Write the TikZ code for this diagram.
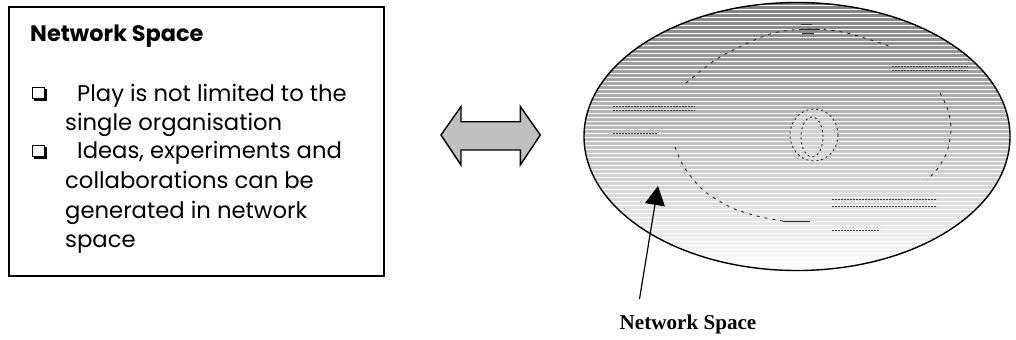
\documentclass[tikz,border=0pt]{standalone}
\usepackage{fontspec}
\setmainfont{Liberation Serif}
\newfontfamily\gothic{Poppins}
\usetikzlibrary{arrows.meta}
\definecolor{shade}{HTML}{C0C0C0}
\tikzset{
  panel/.style={draw, line width=1.6bp, inner sep=0pt, anchor=north west},
  titletext/.style={anchor=base west, inner sep=0pt, font=\gothic\bfseries\fontsize{22.5}{26}\selectfont},
  itemtext/.style={anchor=base west, inner sep=0pt, font=\gothic\fontsize{22.8}{26}\selectfont},
  labeltext/.style={anchor=base, inner sep=0pt, font=\bfseries\fontsize{21.2}{25}\selectfont},
  ghost/.style={black!85, line width=0.9bp, dash pattern=on 3bp off 5bp},
  ghosttext/.style={black!75, line width=0.9bp, dash pattern=on 1.5bp off 1.5bp},
}
\newcommand{\boxbullet}[2]{%
  \draw[line width=0.8bp] (#1,#2) rectangle ++(12.5,11.5);
  \draw[line width=2bp] (#1+14,#2+1.5) -- (#1+14,#2+13) -- (#1+1.5,#2+13);
}
\begin{document}
\begin{tikzpicture}[x=1bp,y=-1bp]
\useasboundingbox (0,0) rectangle (1016,339);

% left text panel
\node[panel, minimum width=375bp, minimum height=269bp] (panel) at (8,6) {};
\node[titletext] (title) at (30,41.7) {Network Space};
\boxbullet{32}{87}
\node[itemtext] (l1) at (77,101.7) {Play is not limited to the};
\node[itemtext] (l2) at (65,130) {single organisation};
\boxbullet{32}{145}
\node[itemtext] (l3) at (77,158.5) {Ideas, experiments and};
\node[itemtext] (l4) at (65,188) {collaborations can be};
\node[itemtext] (l5) at (65,218) {generated in network};
\node[itemtext] (l6) at (65,247) {space};

% two-headed block arrow
\draw[fill=shade, line width=1.4bp, line join=miter]
  (441,135) -- (461,106.5) -- (461,121.7) -- (520.3,121.7) -- (520.3,106.5)
  -- (540.3,135) -- (520.3,165) -- (520.3,150) -- (461,150) -- (461,165) -- cycle;

% striped network ellipse
\begin{scope}
  \clip (797,136.5) ellipse [x radius=213bp, y radius=134bp];
  \fill[shade] (580,0) rectangle (1016,275);
  \foreach \k in {0,...,68} {
    \fill[white] (580,4*\k+1) rectangle (1016,4*\k+2.3);
  }
  % faded circle diagram behind the stripes
  \draw[ghost] plot[smooth] coordinates {(686,83) (720,57) (770,34) (810,29) (847,33) (892,47)};
  \draw[black!80, line width=1bp] (801,24) -- (812,24) (799,29) -- (820,29) (802,33) -- (814,33);
  \draw[ghost] plot[smooth] coordinates {(940,93) (948,110) (951,130) (947,152) (938,168) (927,180)};
  \draw[ghost] plot[smooth] coordinates {(675,147) (684,167) (703,190) (730,207) (757,216) (783,221)};
  \draw[black!85, line width=1bp] (783,221) -- (810,221);
  \fill[black!10, opacity=0.5] (814,135) ellipse [x radius=24bp, y radius=26bp];
  \draw[ghost, dash pattern=on 2bp off 3bp] (814,135) ellipse [x radius=24bp, y radius=26bp];
  \draw[ghost, dash pattern=on 2bp off 3bp] (812,137) ellipse [x radius=11bp, y radius=20bp];
  \draw[ghosttext] (613,106) -- (695,106) (613,110) -- (695,110);
  \draw[ghosttext] (613,133) -- (658,133);
  \draw[ghosttext] (892,66) -- (968,66) (892,70) -- (968,70);
  \draw[ghosttext] (832,199) -- (937,199) (832,206) -- (937,206);
  \draw[ghosttext] (832,230) -- (880,230);
\end{scope}
\draw[line width=1.4bp] (797,136.5) ellipse [x radius=213bp, y radius=134bp];

% caption with pointer into the ellipse
\node[labeltext] (caption) at (688,329) {Network Space};
\coordinate (ptail) at (639.5,299);
\coordinate (ptip) at (658,186);
\draw[line width=1.2bp, -{Triangle[length=19bp, width=20bp]}] (ptail) -- (ptip);
\end{tikzpicture}
\end{document}
